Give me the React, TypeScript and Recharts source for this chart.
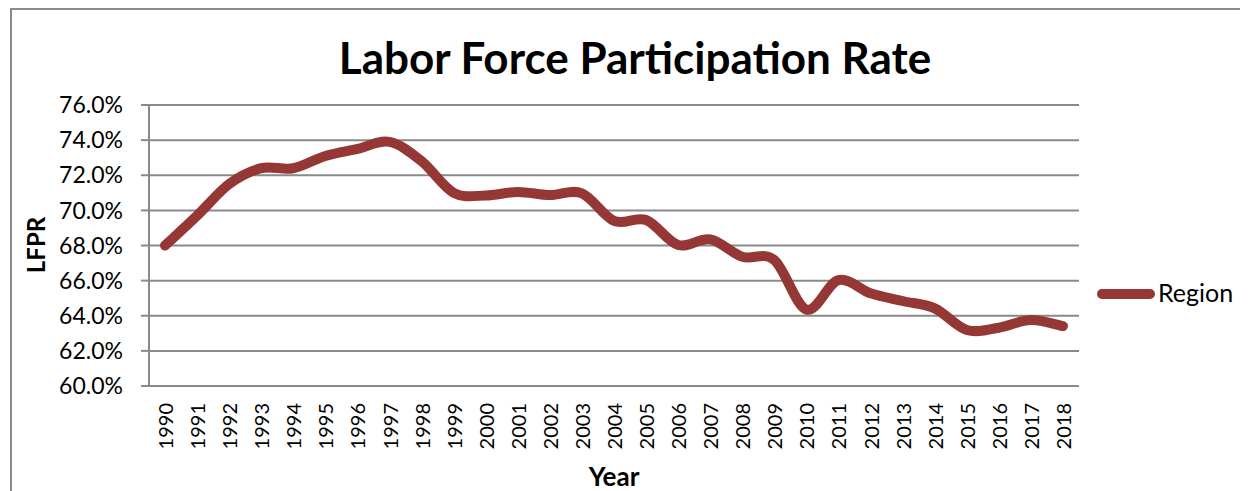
import React from 'react';
import { LineChart, Line, XAxis, YAxis, CartesianGrid } from 'recharts';

const years: number[] = [
  1990, 1991, 1992, 1993, 1994, 1995, 1996, 1997, 1998, 1999,
  2000, 2001, 2002, 2003, 2004, 2005, 2006, 2007, 2008, 2009,
  2010, 2011, 2012, 2013, 2014, 2015, 2016, 2017, 2018,
];

const regionLFPR: number[] = [
  68.0, 69.7, 71.5, 72.4, 72.4, 73.1, 73.5, 73.9, 72.8, 71.0,
  70.85, 71.05, 70.87, 70.97, 69.4, 69.45, 68.03, 68.35, 67.36, 67.17,
  64.35, 66.03, 65.28, 64.84, 64.42, 63.19, 63.32, 63.76, 63.41,
];

const yTicks: number[] = [60, 62, 64, 66, 68, 70, 72, 74, 76];

const title = 'Labor Force Participation Rate';
const xTitle = 'Year';
const yTitle = 'LFPR';
const seriesName = 'Region';

const data = years.map((year, i) => ({ year, region: regionLFPR[i] }));
const boundaries = [...years.map((y) => y - 0.5), years[years.length - 1] + 0.5];

const LINE_COLOR = '#953735';
const GRID = '#8a8a8a';
const FONT = 'Lato, "Open Sans", sans-serif';

// Excel-like smoothed line (Catmull-Rom through every point)
const excelSmooth = (context: any) => {
  let pts: number[][] = [];
  return {
    areaStart() {},
    areaEnd() {},
    lineStart() {
      pts = [];
    },
    point(x: number, y: number) {
      pts.push([+x, +y]);
    },
    lineEnd() {
      const n = pts.length;
      if (!n) return;
      context.moveTo(pts[0][0], pts[0][1]);
      if (n === 1) {
        context.lineTo(pts[0][0], pts[0][1]);
        return;
      }
      for (let i = 0; i < n - 1; i++) {
        const p0 = pts[i > 0 ? i - 1 : i];
        const p1 = pts[i];
        const p2 = pts[i + 1];
        const p3 = pts[i + 2 < n ? i + 2 : i + 1];
        context.bezierCurveTo(
          p1[0] + (p2[0] - p0[0]) / 6,
          p1[1] + (p2[1] - p0[1]) / 6,
          p2[0] - (p3[0] - p1[0]) / 6,
          p2[1] - (p3[1] - p1[1]) / 6,
          p2[0],
          p2[1]
        );
      }
    },
  };
};

const YearTick = (props: any) => {
  const { x, y, payload } = props;
  return (
    <text
      x={x}
      y={y}
      transform={`rotate(-90 ${x} ${y})`}
      textAnchor="end"
      dominantBaseline="central"
      fontFamily={FONT}
      fontSize={20}
      fill="#000"
    >
      {payload.value}
    </text>
  );
};

const EmptyTick = () => <g />;

export default function App() {
  const W = 1236;
  const H = 481;
  return (
    <div
      style={{
        position: 'relative',
        marginLeft: 2,
        width: 1238,
        height: 483,
        borderTop: `2px solid ${GRID}`,
        borderLeft: `2px solid ${GRID}`,
        boxSizing: 'border-box',
        background: '#fff',
      }}
    >
      <div style={{ position: 'absolute', left: 0, top: 0 }}>
        <LineChart
          width={W}
          height={H}
          data={data}
          margin={{ top: 95, right: 169, left: 0, bottom: 45 }}
        >
          <CartesianGrid horizontal vertical={false} stroke={GRID} strokeWidth={2} />
          <XAxis
            xAxisId="marks"
            dataKey="year"
            type="number"
            domain={[boundaries[0], boundaries[boundaries.length - 1]]}
            ticks={boundaries}
            interval={0}
            height={0}
            tick={EmptyTick}
            tickLine={{ stroke: GRID, strokeWidth: 2 }}
            tickSize={7}
            axisLine={{ stroke: GRID, strokeWidth: 2 }}
          />
          <XAxis
            xAxisId="labels"
            dataKey="year"
            type="number"
            domain={[boundaries[0], boundaries[boundaries.length - 1]]}
            ticks={years}
            interval={0}
            height={60}
            tick={YearTick}
            tickLine={false}
            tickSize={0}
            tickMargin={17}
            axisLine={false}
          />
          <YAxis
            domain={[60, 76]}
            ticks={yTicks}
            interval={0}
            width={137}
            tickFormatter={(v: number) => `${v.toFixed(1)}%`}
            tick={{ fontFamily: FONT, fontSize: 23, fill: '#000' }}
            tickLine={{ stroke: GRID, strokeWidth: 2 }}
            tickSize={8}
            tickMargin={18}
            axisLine={{ stroke: GRID, strokeWidth: 2 }}
          />
          <Line
            xAxisId="labels"
            dataKey="region"
            name={seriesName}
            type={excelSmooth as any}
            stroke={LINE_COLOR}
            strokeWidth={10}
            strokeLinecap="round"
            strokeLinejoin="round"
            dot={false}
            activeDot={false}
            isAnimationActive={false}
          />
        </LineChart>
      </div>
      <svg
        width={W}
        height={H}
        style={{ position: 'absolute', left: 0, top: 0, pointerEvents: 'none' }}
      >
        <text x={623} y={64} textAnchor="middle" fontFamily={FONT} fontWeight="bold" fontSize={44} fill="#000">
          {title}
        </text>
        <text
          transform="translate(23 235) rotate(-90)"
          textAnchor="middle"
          dominantBaseline="central"
          fontFamily={FONT}
          fontWeight="bold"
          fontSize={24}
          fill="#000"
        >
          {yTitle}
        </text>
        <text x={602} y={476} textAnchor="middle" fontFamily={FONT} fontWeight="bold" fontSize={26} fill="#000">
          {xTitle}
        </text>
        <line x1={1090} y1={284} x2={1138} y2={284} stroke={LINE_COLOR} strokeWidth={10} strokeLinecap="round" />
        <text x={1146} y={292} fontFamily={FONT} fontSize={25} fill="#000">
          {seriesName}
        </text>
      </svg>
    </div>
  );
}
